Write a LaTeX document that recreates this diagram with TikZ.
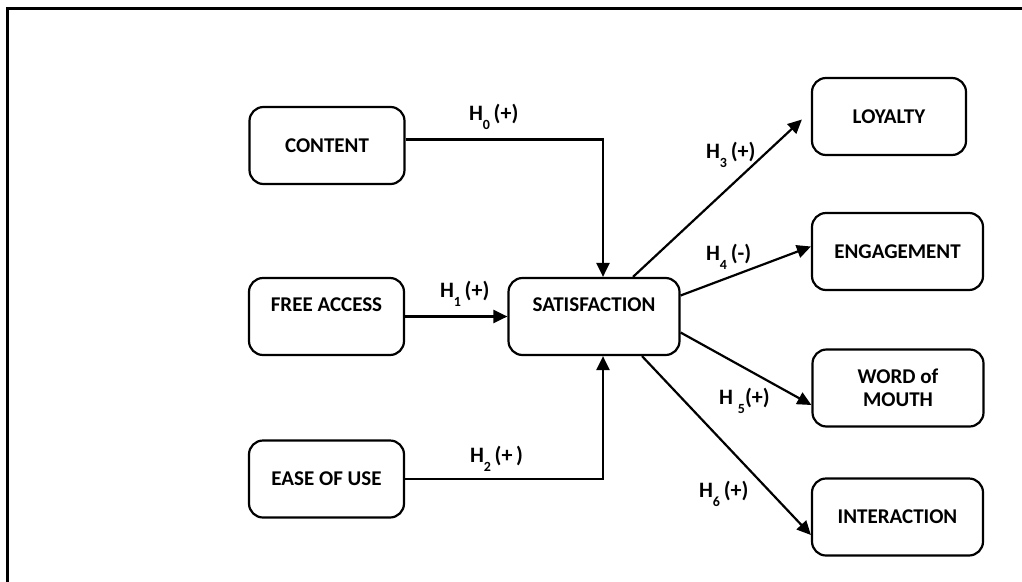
\documentclass[tikz,border=0pt]{standalone}
\usepackage{fontspec}
\setmainfont{Carlito}
\usetikzlibrary{arrows.meta}
\tikzstyle{every picture}=[line width=2.2pt, >={Triangle[length=14pt,width=13pt]}]
\tikzstyle{bloc}=[draw, rounded corners=14pt, align=center, inner sep=0pt,%
	minimum width=155pt, minimum height=77pt, font=\fontsize{21}{23.5}\selectfont\bfseries]
\tikzstyle{large}=[bloc, minimum width=171pt]
\tikzstyle{hyp}=[anchor=base west, inner sep=0pt, font=\fontsize{22}{25}\selectfont\bfseries]
\newcommand{\hind}[1]{\raisebox{-9pt}{\fontsize{14}{14}\selectfont #1}}

\begin{document}
\begin{tikzpicture}[x=1pt, y=-1pt]
	\useasboundingbox (0,0) rectangle (1022,581);
	\draw[line width=3pt] (7,600) -- (7,8.5) -- (1040,8.5);
	\node[bloc] (C) at (327,145.5) {CONTENT};
	\node[bloc] (F) at (326.5,316.5) {FREE ACCESS\\~};
	\node[bloc] (E) at (326.5,479) {EASE OF USE};
	\node[large] (S) at (594,316.5) {SATISFACTION\\~};
	\node[bloc, minimum width=154pt] (L) at (889,116.5) {LOYALTY};
	\node[large] (G) at (897.5,251.5) {ENGAGEMENT};
	\node[large] (W) at (898,388) {WORD of\\MOUTH};
	\node[large] (I) at (897.5,517) {INTERACTION};
	\draw[->] ([yshift=6pt]C.east) -| ([xshift=9pt]S.north);
	\draw[->] (F) -- (S);
	\draw[->] (E.east) -| ([xshift=9pt]S.south);
	\draw[->] ([xshift=39pt]S.north) -- ([xshift=-9pt,yshift=-3pt]L.west);
	\draw[->] ([yshift=21pt]S.east) -- ([yshift=5pt]G.west);
	\draw[->] ([yshift=-16pt]S.east) -- ([yshift=-17pt]W.west);
	\draw[->] ([xshift=48pt]S.south) -- ([yshift=-18pt]I.west);
	\node[hyp] (h0) at (468,120) {H\hind{0}\,(+)};
	\node[hyp] (h1) at (439,297) {H\hind{1}\,(+)};
	\node[hyp] (h2) at (469,462) {H\hind{2}\,(+\,)};
	\node[hyp] (h3) at (705,158) {H\hind{3}\,(+)};
	\node[hyp] (h4) at (705,260) {H\hind{4}\,(-)};
	\node[hyp] (h5) at (718,404) {H \hind{5}(+)};
	\node[hyp] (h6) at (698,497) {H\hind{6}\,(+)};
\end{tikzpicture}
\end{document}
